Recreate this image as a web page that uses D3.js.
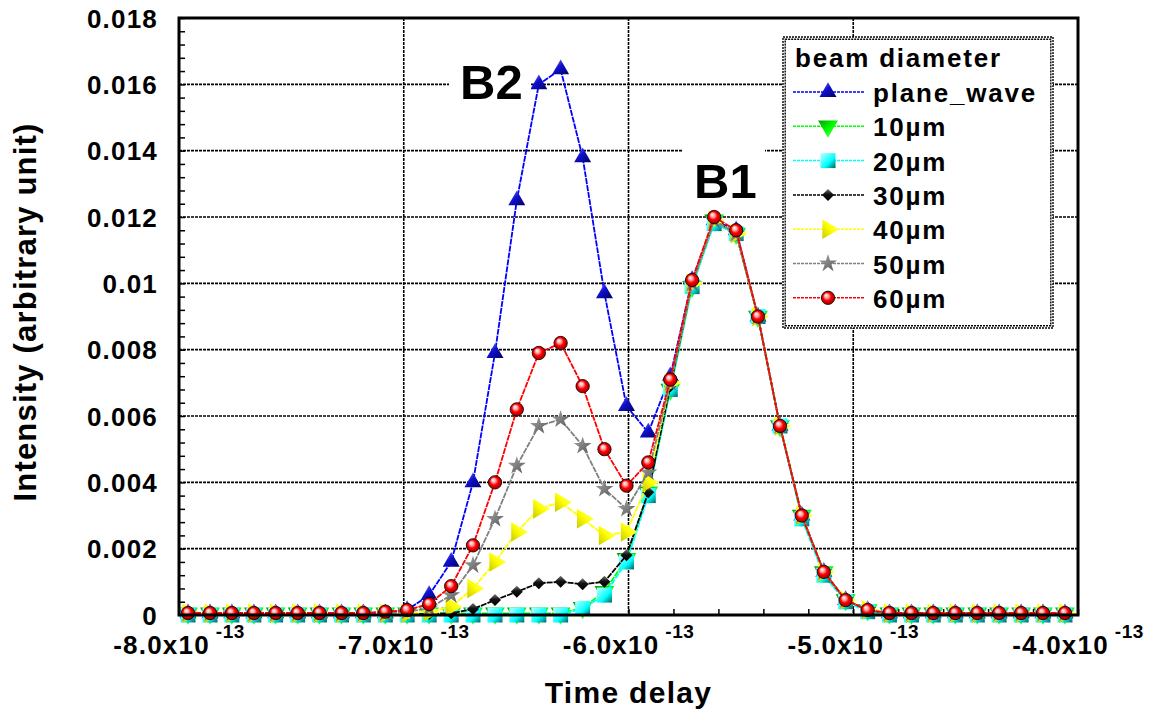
<!DOCTYPE html>
<html>
<head>
<meta charset="utf-8">
<script src="https://cdn.jsdelivr.net/npm/d3@7"></script>
<style>
  body { margin: 0; background: #fff; }
  text { font-family: Arial, "Liberation Sans", sans-serif; font-weight: bold; fill: #000; }
</style>
</head>
<body>
<div id="chart"></div>
<script>
// time delay of each sample (s)
const delay = [
  -7.960e-13, -7.862e-13, -7.765e-13, -7.667e-13, -7.570e-13, -7.472e-13, -7.375e-13, -7.277e-13,
  -7.180e-13, -7.082e-13, -6.985e-13, -6.887e-13, -6.789e-13, -6.692e-13, -6.594e-13, -6.497e-13,
  -6.399e-13, -6.302e-13, -6.204e-13, -6.107e-13, -6.009e-13, -5.912e-13, -5.814e-13, -5.717e-13,
  -5.619e-13, -5.521e-13, -5.424e-13, -5.326e-13, -5.229e-13, -5.131e-13, -5.034e-13, -4.936e-13,
  -4.839e-13, -4.741e-13, -4.644e-13, -4.546e-13, -4.448e-13, -4.351e-13, -4.253e-13, -4.156e-13,
  -4.058e-13
];

// intensity per beam diameter
const planeWave = [
  0.00005, 0.00005, 0.00005, 0.00005, 0.00005, 0.00005, 0.00005, 0.00005, 0.00005, 0.00005,
  0.00015, 0.0006, 0.0016, 0.0040, 0.0079, 0.0125, 0.0160, 0.01645, 0.0138, 0.0097,
  0.0063, 0.0055, 0.0072, 0.0101, 0.0119, 0.0116, 0.0090, 0.0057, 0.0030, 0.0013,
  0.00045, 0.00015, 0.00005, 0.00005, 0.00005, 0.00005, 0.00005, 0.00005, 0.00005, 0.00005,
  0.00005
];
const d10 = [
  0.00005, 0.00005, 0.00005, 0.00005, 0.00005, 0.00005, 0.00005, 0.00005, 0.00005, 0.00005,
  0.00005, 0.00005, 0.00005, 0.00005, 0.00005, 0.00005, 0.00005, 0.00005, 0.00022, 0.0007,
  0.0017, 0.0037, 0.0068, 0.0099, 0.0119, 0.0115, 0.0090, 0.0057, 0.0030, 0.0013,
  0.00045, 0.00015, 0.00005, 0.00005, 0.00005, 0.00005, 0.00005, 0.00005, 0.00005, 0.00005,
  0.00005
];
const d20 = [
  0, 0, 0, 0, 0, 0, 0, 0, 0, 0,
  0, 0, 0, 0, 0, 0, 0, 0, 0.0002, 0.0006,
  0.0016, 0.0036, 0.0068, 0.0099, 0.0118, 0.0115, 0.0090, 0.0057, 0.0029, 0.0012,
  0.0004, 0.0001, 0, 0, 0, 0, 0, 0, 0, 0,
  0
];
const d30 = [
  0.00003, 0.00003, 0.00003, 0.00003, 0.00003, 0.00003, 0.00003, 0.00003, 0.00003, 0.00003,
  0.00003, 0.00003, 0.00005, 0.00018, 0.00045, 0.0007, 0.00096, 0.001, 0.00093, 0.001,
  0.0018, 0.0037, 0.0069, 0.0100, 0.0119, 0.0115, 0.0090, 0.0057, 0.0030, 0.0013,
  0.00045, 0.00015, 0.00003, 0.00003, 0.00003, 0.00003, 0.00003, 0.00003, 0.00003, 0.00003,
  0.00003
];
const d40 = [
  0.00005, 0.00005, 0.00005, 0.00005, 0.00005, 0.00005, 0.00005, 0.00005, 0.00005, 0.00005,
  0.00005, 0.0001, 0.00025, 0.0008, 0.0016, 0.0025, 0.0032, 0.0034, 0.0029, 0.0024,
  0.0025, 0.0040, 0.0070, 0.0100, 0.0119, 0.0115, 0.0090, 0.0057, 0.0030, 0.0013,
  0.00045, 0.00015, 0.00005, 0.00005, 0.00005, 0.00005, 0.00005, 0.00005, 0.00005, 0.00005,
  0.00005
];
const d50 = [
  0.00005, 0.00005, 0.00005, 0.00005, 0.00005, 0.00005, 0.00005, 0.00005, 0.00005, 0.00005,
  0.0001, 0.0002, 0.0006, 0.0015, 0.0029, 0.0045, 0.0057, 0.0059, 0.0051, 0.0038,
  0.0032, 0.0043, 0.0070, 0.0100, 0.0119, 0.0115, 0.0090, 0.0057, 0.0030, 0.0013,
  0.00045, 0.00015, 0.00005, 0.00005, 0.00005, 0.00005, 0.00005, 0.00005, 0.00005, 0.00005,
  0.00005
];
const d60 = [
  0.00006, 0.00006, 0.00006, 0.00006, 0.00006, 0.00006, 0.00006, 0.00006, 0.00006, 0.0001,
  0.00015, 0.00033, 0.00087, 0.0021, 0.0040, 0.0062, 0.0079, 0.0082, 0.0069, 0.0050,
  0.0039, 0.0046, 0.0071, 0.0101, 0.0120, 0.0116, 0.0090, 0.0057, 0.0030, 0.0013,
  0.00045, 0.00015, 0.00006, 0.00006, 0.00006, 0.00006, 0.00006, 0.00006, 0.00006, 0.00006,
  0.00006
];

const seriesNames = ['plane_wave', '10µm', '20µm', '30µm', '40µm', '50µm', '60µm'];
const seriesValues = [planeWave, d10, d20, d30, d40, d50, d60];

// axis ticks
const xTickValues = [-8e-13, -7e-13, -6e-13, -5e-13, -4e-13];
const xTickLabels = ['-8.0x10', '-7.0x10', '-6.0x10', '-5.0x10', '-4.0x10'];
const xExponent = '-13';
const yTickValues = [0, 0.002, 0.004, 0.006, 0.008, 0.01, 0.012, 0.014, 0.016, 0.018];
const yTickLabels = ['0', '0.002', '0.004', '0.006', '0.008', '0.01', '0.012', '0.014', '0.016', '0.018'];

const margin = {top: 18, right: 75, bottom: 98, left: 179};
const width = 1153 - margin.left - margin.right;   // 899
const height = 713 - margin.top - margin.bottom;   // 597

const svg = d3.select('#chart')
  .append('svg')
  .attr('width', 1153)
  .attr('height', 713);

// gradients for the shaded markers
const defs = svg.append('defs');
const linGrad = (id, stops) => {
  const g = defs.append('linearGradient').attr('id', id)
    .attr('x1', 0).attr('y1', 0).attr('x2', 1).attr('y2', 1);
  stops.forEach(s => g.append('stop').attr('offset', s[0]).attr('stop-color', s[1]));
};
linGrad('gBlue', [[0, '#9090ff'], [0.45, '#1010d0'], [1, '#000060']]);
linGrad('gGreen', [[0, '#80ff80'], [0.5, '#00ff00'], [1, '#00a000']]);
linGrad('gCyan', [[0, '#c0ffff'], [0.6, '#00ffff'], [0.8, '#00b0b0'], [1, '#006060']]);
linGrad('gBlack', [[0, '#777'], [0.45, '#111'], [1, '#000']]);
linGrad('gYellow', [[0, '#ffffa0'], [0.5, '#ffff00'], [1, '#c8c800']]);
linGrad('gGray', [[0, '#aaa'], [0.5, '#808080'], [1, '#555']]);
const rg = defs.append('radialGradient').attr('id', 'gRed')
  .attr('cx', 0.5).attr('cy', 0.5).attr('r', 0.55).attr('fx', 0.35).attr('fy', 0.3);
[[0, '#ffffff'], [0.3, '#ffa0a0'], [0.55, '#ff0000'], [1, '#900000']]
  .forEach(s => rg.append('stop').attr('offset', s[0]).attr('stop-color', s[1]));

// series styles
const styles = [
  {color: '#0000ff', fill: 'url(#gBlue)', type: d3.symbolTriangle, size: 125, rot: 0, stroke: 'none'},
  {color: '#00ff00', fill: 'url(#gGreen)', type: d3.symbolTriangle, size: 170, rot: 180, stroke: 'none'},
  {color: '#00ffff', fill: 'url(#gCyan)', type: d3.symbolSquare, size: 225, rot: 0, stroke: 'none'},
  {color: '#000000', fill: 'url(#gBlack)', type: d3.symbolSquare, size: 72, rot: 45, stroke: 'none'},
  {color: '#ffff00', fill: 'url(#gYellow)', type: d3.symbolTriangle, size: 165, rot: 90, stroke: 'none'},
  {color: '#808080', fill: 'url(#gGray)', type: d3.symbolStar, size: 100, rot: 0, stroke: 'none'},
  {color: '#ff0000', fill: 'url(#gRed)', type: d3.symbolCircle, size: 140, rot: 0, stroke: '#000'}
];

const graph = svg.append('g')
  .attr('transform', `translate(${margin.left}, ${margin.top})`);

// scales
const x = d3.scaleLinear().domain([-8e-13, -4e-13]).range([0, width]);
const y = d3.scaleLinear().domain([0, 0.018]).range([height, 0]);

// grid lines
const grid = graph.append('g').attr('class', 'grid');
grid.selectAll('line.gx')
  .data(xTickValues.slice(1, -1))
  .enter().append('line')
    .attr('x1', d => x(d)).attr('x2', d => x(d))
    .attr('y1', 0).attr('y2', height)
    .attr('stroke', '#000').attr('stroke-width', 1.6).attr('stroke-dasharray', '3,1');
grid.selectAll('line.gy')
  .data(yTickValues.slice(1, -1))
  .enter().append('line')
    .attr('x1', 0).attr('x2', width)
    .attr('y1', d => y(d)).attr('y2', d => y(d))
    .attr('stroke', '#000').attr('stroke-width', 1.6).attr('stroke-dasharray', '3,1');

// minor ticks (inward)
const yMinor = d3.axisLeft(y).tickValues(d3.range(0, 0.01801, 0.0004)).tickSize(-6).tickFormat('');
graph.append('g').call(yMinor).call(g => g.select('.domain').remove())
  .selectAll('line').attr('stroke', '#000').attr('stroke-width', 1.5);
const xMinor = d3.axisBottom(x).tickValues(d3.range(-8e-13, -3.99e-13, 0.2e-13)).tickSize(-6).tickFormat('');
graph.append('g').attr('transform', `translate(0, ${height})`).call(xMinor)
  .call(g => g.select('.domain').remove())
  .selectAll('line').attr('stroke', '#000').attr('stroke-width', 1.5);

// line generator
const line = d3.line()
  .x((d, i) => x(delay[i]))
  .y(d => y(d));

const symbolPath = s => d3.symbol().type(s.type).size(s.size)();

// draw series
seriesValues.forEach((vals, k) => {
  const s = styles[k];
  graph.append('path')
    .datum(vals)
    .attr('fill', 'none')
    .attr('stroke', s.color)
    .attr('stroke-width', 1.8)
    .attr('stroke-dasharray', '6,1')
    .attr('d', line);
  graph.append('g').selectAll('path')
    .data(vals)
    .enter().append('path')
      .attr('d', symbolPath(s))
      .attr('transform', (d, i) => `translate(${x(delay[i])}, ${y(d)}) rotate(${s.rot})`)
      .attr('fill', s.fill)
      .attr('stroke', s.stroke)
      .attr('stroke-width', 0.8);
});

// frame
graph.append('rect')
  .attr('x', 0).attr('y', 0).attr('width', width).attr('height', height)
  .attr('fill', 'none').attr('stroke', '#000').attr('stroke-width', 3);

// y tick labels
svg.append('g').selectAll('text')
  .data(yTickValues)
  .enter().append('text')
    .attr('x', margin.left - 21)
    .attr('y', d => margin.top + y(d) + 9.5)
    .attr('text-anchor', 'end')
    .attr('font-size', 26)
    .attr('letter-spacing', 1.2)
    .text((d, i) => yTickLabels[i]);

// x tick labels with exponent
xTickValues.forEach((v, i) => {
  const g = svg.append('g')
    .attr('transform', `translate(${margin.left + x(v)}, ${margin.top + height})`);
  const main = g.append('text')
    .attr('y', 39)
    .attr('font-size', 26)
    .attr('letter-spacing', 1.2)
    .text(xTickLabels[i]);
  const sup = g.append('text')
    .attr('y', 23)
    .attr('font-size', 19)
    .attr('letter-spacing', 0.5)
    .text(xExponent);
  const w1 = main.node().getComputedTextLength();
  const w2 = sup.node().getComputedTextLength();
  const start = -(w1 + 6 + w2) / 2;
  main.attr('x', start);
  sup.attr('x', start + w1 + 6);
});

// axis titles
svg.append('text')
  .attr('x', margin.left + width / 2)
  .attr('y', 703)
  .attr('text-anchor', 'middle')
  .attr('font-size', 30)
  .attr('letter-spacing', 1.3)
  .text('Time delay');

svg.append('text')
  .attr('transform', 'translate(36, 312) rotate(-90)')
  .attr('text-anchor', 'middle')
  .attr('font-size', 31)
  .attr('letter-spacing', 1.2)
  .text('Intensity (arbitrary unit)');

// peak annotations
const note = (label, bx, by, bw, bh, tx, ty) => {
  svg.append('rect').attr('x', bx).attr('y', by).attr('width', bw).attr('height', bh).attr('fill', '#fff');
  svg.append('text').attr('x', tx).attr('y', ty).attr('font-size', 49).text(label);
};
note('B2', 449, 58, 82, 48, 460, 99);
note('B1', 683, 140, 82, 64, 694, 198);

// legend
const legend = svg.append('g');
legend.append('rect')
  .attr('x', 783).attr('y', 37).attr('width', 270).attr('height', 291)
  .attr('fill', '#fff');
[0, 2.2].forEach(o => {
  legend.append('rect')
    .attr('x', 783 + o).attr('y', 37 + o).attr('width', 270 - 2 * o).attr('height', 291 - 2 * o)
    .attr('fill', 'none').attr('stroke', '#000').attr('stroke-width', 1.4)
    .attr('stroke-dasharray', '2,1');
});
legend.append('text')
  .attr('x', 795).attr('y', 67)
  .attr('font-size', 26).attr('letter-spacing', 1.8)
  .text('beam diameter');

seriesNames.forEach((name, k) => {
  const s = styles[k];
  const cy = 92 + k * 34.3;
  legend.append('line')
    .attr('x1', 793).attr('x2', 865).attr('y1', cy).attr('y2', cy)
    .attr('stroke', s.color).attr('stroke-width', 1.5).attr('stroke-dasharray', '3,1');
  legend.append('path')
    .attr('d', symbolPath(s))
    .attr('transform', `translate(828, ${cy}) rotate(${s.rot})`)
    .attr('fill', s.fill)
    .attr('stroke', s.stroke)
    .attr('stroke-width', 0.8);
  legend.append('text')
    .attr('x', 873).attr('y', cy + 10)
    .attr('font-size', 26).attr('letter-spacing', 1.8)
    .text(name);
});
</script>
</body>
</html>
